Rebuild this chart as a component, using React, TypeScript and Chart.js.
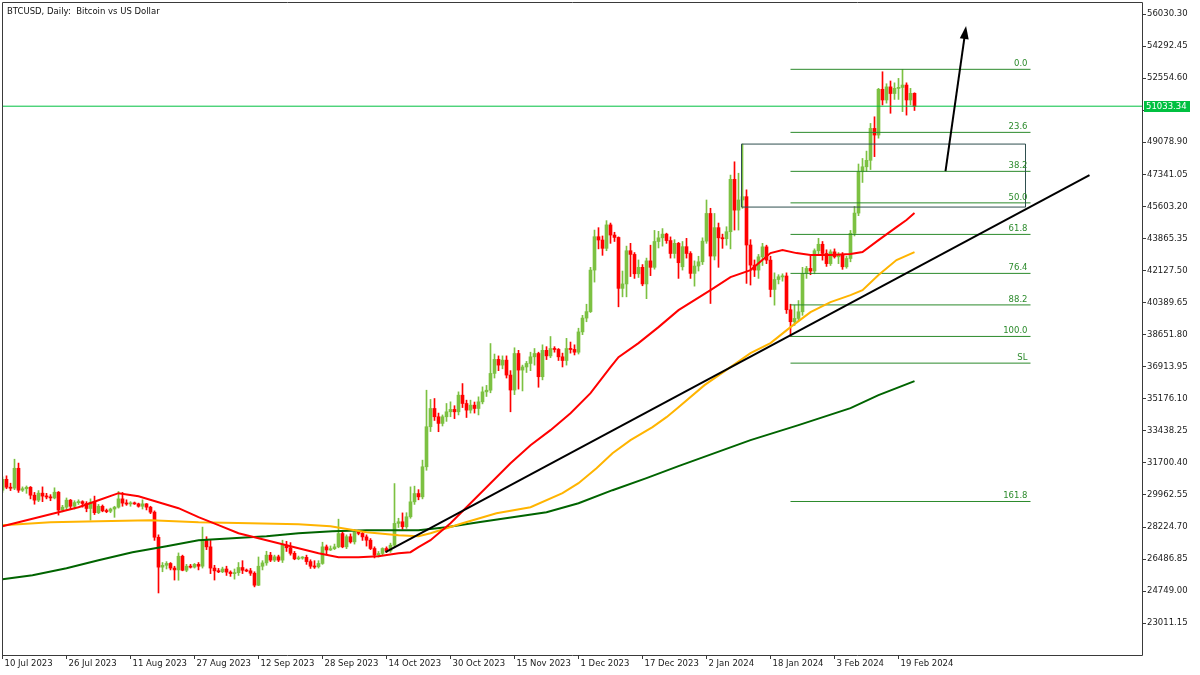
import React, { useEffect, useRef } from "react";
import { Chart, registerables } from "chart.js";

Chart.register(...registerables);

const FONT = "'DejaVu Sans', sans-serif";

const chartTitle = "BTCUSD, Daily:  Bitcoin vs US Dollar";

const dateLabels = [
  "10 Jul 2023", "26 Jul 2023", "11 Aug 2023", "27 Aug 2023", "12 Sep 2023",
  "28 Sep 2023", "14 Oct 2023", "30 Oct 2023", "15 Nov 2023", "1 Dec 2023",
  "17 Dec 2023", "2 Jan 2024", "18 Jan 2024", "3 Feb 2024", "19 Feb 2024",
];
const dateLabelStep = 16;

// daily candles: [open, high, low, close]
const jul2023 = [
  [30220, 30950, 30100, 30810], [30810, 31000, 30300, 30380], [30380, 30600, 30200, 30330],
  [30330, 31900, 30250, 31410], [31410, 31690, 30100, 30220], [30220, 30400, 30150, 30300],
  [30300, 30450, 30050, 30380], [30380, 30420, 29750, 29950], [29950, 30100, 29460, 29680],
  [29680, 30200, 29600, 30060], [30060, 30400, 29600, 29900], [29900, 30050, 29750, 29860],
  [29860, 29980, 29650, 29800], [29800, 30350, 29750, 30110], [30110, 30150, 28870, 29140],
  [29140, 29400, 29050, 29300], [29300, 29800, 29150, 29680], [29680, 29720, 29200, 29350],
  [29350, 29650, 29200, 29550], [29550, 29700, 29450, 29600], [29600, 29650, 29300, 29500],
  [29500, 29600, 29050, 29230],
];
const aug2023 = [
  [29230, 29750, 28600, 29570], [29570, 29900, 28900, 29000], [29000, 29450, 28950, 29350],
  [29350, 29420, 29050, 29100], [29100, 29200, 29000, 29080], [29080, 29250, 29000, 29200],
  [29200, 29350, 28750, 29300], [29300, 30150, 29250, 29750], [29750, 30100, 29350, 29520],
  [29520, 29700, 29400, 29480], [29480, 29600, 29350, 29530], [29530, 29580, 29450, 29480],
  [29480, 29520, 29300, 29350], [29350, 29700, 29200, 29480], [29480, 29500, 29150, 29300],
  [29300, 29350, 28950, 29030], [29030, 29100, 27500, 27670], [27670, 27800, 24650, 26050],
  [26050, 26300, 25800, 26150], [26150, 26350, 25950, 26250], [26250, 26300, 25900, 26000],
  [26000, 26100, 25350, 25900], [25900, 26820, 25340, 26640], [26640, 26700, 25850, 25880],
  [25880, 26200, 25800, 26100], [26100, 26200, 26000, 26050], [26050, 26250, 26000, 26200],
  [26200, 26300, 25900, 26100], [26100, 28220, 26000, 27510], [27510, 27700, 27000, 27150],
  [27150, 27500, 25700, 26000],
];
const sep2023 = [
  [26000, 26150, 25350, 25850], [25850, 25980, 25750, 25800], [25800, 26050, 25750, 25950],
  [25950, 26100, 25600, 25780], [25780, 25850, 25550, 25700], [25700, 25950, 25400, 25750],
  [25750, 26300, 25600, 26030], [26030, 26400, 25700, 25880], [25880, 25950, 25800, 25850],
  [25850, 25980, 25600, 25720], [25720, 25800, 24980, 25070], [25070, 26600, 25050, 26100],
  [26100, 26400, 25900, 26280], [26280, 26910, 26150, 26700], [26700, 26850, 26350, 26430],
  [26430, 26700, 26350, 26610], [26610, 26700, 26350, 26430], [26430, 27510, 26300, 27240],
  [27240, 27450, 26900, 27100], [27100, 27380, 26700, 26800], [26800, 26900, 26450, 26500],
  [26500, 26650, 26450, 26560], [26560, 26620, 26480, 26580], [26580, 26700, 26200, 26350],
  [26350, 26450, 25980, 26100], [26100, 26400, 25980, 26070], [26070, 26400, 26000, 26250],
  [26250, 27400, 26200, 27150], [27150, 27250, 26750, 26980], [26980, 27200, 26950, 27050],
];
const oct2023 = [
  [27050, 27300, 27000, 27150], [27150, 28650, 27100, 27870], [27870, 27950, 27100, 27150],
  [27150, 27800, 27050, 27700], [27700, 27850, 27350, 27420], [27420, 28090, 27300, 27960],
  [27960, 28050, 27800, 27880], [27880, 28000, 27500, 27690], [27690, 27800, 27190, 27510],
  [27510, 27600, 27000, 27060], [27060, 27150, 26550, 26700], [26700, 26900, 26600, 26790],
  [26790, 27100, 26700, 27060], [27060, 27150, 26850, 26930], [26930, 27350, 26850, 27240],
  [27240, 30580, 27100, 28420], [28420, 28700, 28200, 28510], [28510, 28990, 28100, 28240],
  [28240, 29000, 28150, 28780], [28780, 30400, 28700, 29590], [29590, 30440, 29450, 30040],
  [30040, 30250, 29700, 29860], [29860, 31850, 29750, 31490], [31490, 35640, 31300, 33660],
  [33660, 35140, 33400, 34650], [34650, 35190, 34000, 34200], [34200, 34400, 33390, 33840],
  [33840, 34300, 33700, 34200], [34200, 34920, 33950, 34470], [34470, 35010, 34200, 34600],
  [34600, 34800, 34100, 34470],
];
const nov2023 = [
  [34470, 35550, 34300, 35370], [35370, 36000, 34700, 34920], [34920, 35100, 34160, 34560],
  [34560, 35100, 34400, 34830], [34830, 35000, 34400, 34650], [34650, 35280, 34300, 35010],
  [35010, 35820, 34900, 35550], [35550, 35900, 35300, 35640], [35640, 38170, 35500, 36550],
  [36550, 37600, 36300, 37310], [37310, 37500, 36700, 37000], [37000, 37500, 36800, 37270],
  [37270, 37500, 36300, 36460], [36460, 36700, 34470, 35650], [35650, 37940, 35400, 37630],
  [37630, 37800, 35700, 36730], [36730, 37000, 35600, 36900], [36900, 37200, 36600, 37090],
  [37090, 37700, 36700, 37450], [37450, 37900, 37000, 37630], [37630, 37700, 35800, 36370],
  [36370, 38100, 36200, 37800], [37800, 38000, 37300, 37500], [37500, 38550, 37400, 37900],
  [37900, 38000, 37700, 37850], [37850, 37900, 37250, 37450], [37450, 37650, 36900, 37250],
  [37250, 38450, 37000, 37900], [37900, 38250, 37650, 37850], [37850, 38100, 37550, 37700],
];
const dec2023 = [
  [37700, 39000, 37600, 38800], [38800, 39700, 38650, 39550], [39550, 40300, 39350, 39900],
  [39900, 42300, 39850, 42150], [42150, 44320, 41500, 43960], [43960, 44450, 43300, 43780],
  [43780, 44000, 42950, 43330], [43330, 44830, 43200, 44600], [44600, 44700, 43600, 44050],
  [44050, 44200, 43700, 43920], [43920, 43950, 40160, 41160], [41160, 42100, 40700, 41400],
  [41400, 43450, 40700, 43200], [43200, 43600, 41800, 43000], [43000, 43100, 41700, 41950],
  [41950, 42700, 41750, 42300], [42300, 42450, 41300, 41400], [41400, 42800, 40600, 42650],
  [42650, 43500, 41850, 42300], [42300, 44300, 42200, 43700], [43700, 44250, 43350, 43900],
  [43900, 44400, 43450, 44100], [44100, 44150, 43600, 43750], [43750, 43950, 42800, 43050],
  [43050, 43800, 42800, 43600], [43600, 43650, 41700, 42550], [42330, 43700, 42150, 43420],
  [43420, 43870, 42800, 43050], [43050, 43150, 41700, 41970], [41970, 42650, 41280, 42370],
  [42370, 42900, 42100, 42600],
];
const jan2024 = [
  [42600, 43900, 42450, 43720], [43720, 45950, 43600, 45220], [45220, 45500, 40340, 42910],
  [42910, 45220, 42700, 44450], [44450, 44700, 42300, 43900], [43900, 44100, 43330, 43850],
  [43850, 44500, 43500, 44230], [44230, 47300, 43300, 47070], [47070, 48020, 44320, 45400],
  [45400, 47400, 44320, 45950], [45950, 48980, 45500, 46130], [46130, 46500, 41430, 43510],
  [43510, 43800, 41340, 42420], [42420, 42700, 41800, 42150], [42150, 43000, 41700, 42870],
  [42870, 43600, 42400, 43410], [43410, 43500, 42500, 42690], [42690, 42900, 40700, 41100],
  [41100, 42000, 40250, 41640], [41640, 41900, 41400, 41790], [41790, 41950, 41550, 41830],
  [41830, 42000, 39800, 40000], [40000, 40300, 38560, 39350], [39350, 40250, 39150, 39530],
  [39530, 40500, 39400, 39890], [39890, 42300, 39700, 41970], [41970, 42350, 41700, 42240],
  [42240, 42900, 41900, 42100], [42100, 43300, 41950, 43200], [43200, 43870, 43000, 43550],
  [43550, 43700, 42690, 43050],
];
const feb2024 = [
  [43050, 43250, 42350, 42500], [42500, 43250, 42400, 43140], [43140, 43300, 42800, 42870],
  [42870, 43100, 42500, 42950], [42950, 43100, 42190, 42330], [42330, 42900, 42250, 42780],
  [42780, 44300, 42600, 44140], [44140, 45600, 44000, 45240], [45240, 47900, 45100, 47480],
  [47480, 48200, 46900, 47750], [47750, 48600, 47500, 48100], [48100, 50100, 47600, 49830],
  [49830, 50460, 48300, 49470], [49470, 52000, 49300, 51950], [51950, 52900, 51100, 51370],
  [51370, 52250, 51200, 52080], [52080, 52400, 50650, 51720], [51720, 52300, 51400, 52000],
  [52000, 52540, 51400, 52050], [52050, 53030, 50740, 52180], [52180, 52300, 50550, 51370],
  [51370, 52000, 51100, 51730], [51730, 51760, 50800, 51033],
];

const candles = [
  ...jul2023, ...aug2023, ...sep2023, ...oct2023,
  ...nov2023, ...dec2023, ...jan2024, ...feb2024,
];

// price axis
const priceTickStart = 23011.15;
const priceTickStep = 1737.85;
const priceTickCount = 20;
const priceMin = 21288;
const priceMax = 56681;
const barIndexMin = -0.125;
const barIndexMax = 284.875;
const lastPrice = 51033.34;

// moving averages: [bar index, price]
const maRed = [
  [0, 28269], [4, 28486], [9, 28757], [14, 29028], [19, 29300], [24, 29679], [29, 30059],
  [34, 29896], [39, 29571], [44, 29245], [49, 28757], [54, 28324], [59, 27890], [64, 27619],
  [69, 27348], [74, 27077], [79, 26805], [84, 26589], [89, 26589], [94, 26643], [99, 26805],
  [102, 26860], [104, 27131], [107, 27510], [112, 28432], [117, 29516], [122, 30601],
  [127, 31685], [132, 32661], [137, 33474], [142, 34396], [147, 35481], [152, 36890],
  [154, 37433], [159, 38192], [164, 39059], [169, 39981], [177, 41065], [182, 41770],
  [187, 42150], [192, 43071], [195, 43234], [198.5, 43071], [202, 42963], [207, 42963],
  [212, 43017], [215, 43126], [219, 43776], [223.5, 44481], [226, 44861], [228, 45240],
];
const maOrange = [
  [0, 28324], [12, 28486], [24, 28540], [37, 28595], [49, 28486], [62, 28432], [74, 28378],
  [82, 28269], [91, 27944], [99, 27781], [104, 27727], [107, 27890], [115, 28432],
  [123.5, 28974], [132, 29300], [140, 30059], [144, 30601], [148.5, 31414], [152.5, 32227],
  [157, 32932], [162.5, 33637], [166, 34179], [169, 34722], [175.5, 35914], [182, 36890],
  [187, 37649], [192, 38192], [197, 39059], [202, 39872], [207, 40415], [212, 40794],
  [215, 41065], [219, 41879], [223.5, 42692], [228, 43126],
];
const maGreen = [
  [0, 25396], [7.5, 25613], [16, 25992], [24, 26426], [32.5, 26860], [41, 27185], [49, 27510],
  [57.5, 27619], [66, 27727], [74, 27890], [82.5, 27998], [91, 28052], [104, 28052],
  [111, 28215], [119, 28486], [127.5, 28757], [136, 29028], [144, 29516], [152.5, 30221],
  [161, 30872], [169, 31523], [187, 32932], [199, 33746], [212, 34667], [219, 35372],
  [228, 36131],
];

// drawings
const trendLine = [[95.75, 26860], [271.75, 47301]];
const arrowLine = [[235.75, 47517], [240.75, 55162]];
const zoneBox = [[184.75, 48981], [255.75, 48981], [255.75, 45566], [184.75, 45566], [184.75, 48981]];

const fibHigh = 53032;
const fibLow = 38555;
const fibFrom = 197;
const fibTo = 257;
const fibRatios = [0, 23.6, 38.2, 50, 61.8, 76.4, 88.2, 100, 110, 161.8];
const fibNames = ["0.0", "23.6", "38.2", "50.0", "61.8", "76.4", "88.2", "100.0", "SL", "161.8"];

const BULL = "#7cc142";
const BEAR = "#ff0000";
const FIB = "#2b8a2b";
const LAST = "#00c040";
const AXIS = "#3a3a3a";

const xy = (pts: number[][]) => pts.map(([i, p]) => ({ x: i, y: p }));
const fibPrice = (r: number) => fibHigh - ((fibHigh - fibLow) * r) / 100;

const overlayPlugin = {
  id: "overlay",
  afterDatasetsDraw(chart: any) {
    const { ctx, scales } = chart;
    const x = scales.x;
    const y = scales.y;
    const x1 = x.getPixelForValue(arrowLine[0][0]);
    const y1 = y.getPixelForValue(arrowLine[0][1]);
    const x2 = x.getPixelForValue(arrowLine[1][0]);
    const y2 = y.getPixelForValue(arrowLine[1][1]);
    const ang = Math.atan2(y2 - y1, x2 - x1);
    const c = Math.cos(ang);
    const s = Math.sin(ang);
    const tipX = x2 + c * 4;
    const tipY = y2 + s * 4;
    const bx = tipX - c * 13;
    const by = tipY - s * 13;
    ctx.save();
    ctx.fillStyle = "#000";
    ctx.beginPath();
    ctx.moveTo(tipX, tipY);
    ctx.lineTo(bx - s * 4.5, by + c * 4.5);
    ctx.lineTo(bx + s * 4.5, by - c * 4.5);
    ctx.closePath();
    ctx.fill();

    // fib labels
    ctx.font = `8.5px ${FONT}`;
    ctx.fillStyle = FIB;
    ctx.textAlign = "right";
    ctx.textBaseline = "alphabetic";
    const lx = x.getPixelForValue(fibTo) - 3;
    fibRatios.forEach((r, k) => {
      ctx.fillText(fibNames[k], lx, y.getPixelForValue(fibPrice(r)) - 3);
    });
    ctx.restore();
  },
  afterDraw(chart: any) {
    const { ctx, chartArea: a, scales } = chart;
    const y = scales.y;
    ctx.save();
    // frame
    ctx.strokeStyle = AXIS;
    ctx.lineWidth = 1;
    ctx.beginPath();
    ctx.moveTo(a.left + 0.5, a.bottom + 0.5);
    ctx.lineTo(a.left + 0.5, a.top + 0.5);
    ctx.lineTo(a.right + 0.5, a.top + 0.5);
    ctx.lineTo(a.right + 0.5, a.bottom + 0.5);
    ctx.lineTo(a.left + 0.5, a.bottom + 0.5);
    ctx.stroke();

    // title
    ctx.font = `8.5px ${FONT}`;
    ctx.fillStyle = "#111";
    ctx.textAlign = "left";
    ctx.textBaseline = "alphabetic";
    ctx.fillText(chartTitle, 7, 13.5);

    // last price tag
    const py = y.getPixelForValue(lastPrice);
    ctx.fillStyle = LAST;
    ctx.fillRect(a.right + 2, Math.round(py) - 5, 46, 11);
    ctx.fillStyle = "#fff";
    ctx.textBaseline = "middle";
    ctx.fillText(lastPrice.toFixed(2), a.right + 4, Math.round(py) + 0.5);
    ctx.restore();
  },
};

export default function App() {
  const ref = useRef<HTMLCanvasElement>(null);

  useEffect(() => {
    const canvas = ref.current;
    if (!canvas) return;

    const colors = candles.map(([o, , , c]) => (c >= o ? BULL : BEAR));
    const wickData = candles.map(([, h, l], i) => ({ x: i, y: [l, h] }));
    const bodyData = candles.map(([o, , , c], i) => {
      let lo = Math.min(o, c);
      let hi = Math.max(o, c);
      if (hi - lo < 60) {
        const m = (hi + lo) / 2;
        lo = m - 30;
        hi = m + 30;
      }
      return { x: i, y: [lo, hi] };
    });

    const lineBase = {
      type: "line" as const,
      pointRadius: 0,
      pointHoverRadius: 0,
      tension: 0,
      fill: false,
    };

    const datasets: any[] = [
      {
        type: "bar",
        data: wickData,
        backgroundColor: colors,
        borderWidth: 0,
        barThickness: 1,
        grouped: false,
        order: 20,
      },
      {
        type: "bar",
        data: bodyData,
        backgroundColor: colors,
        borderWidth: 0,
        barThickness: 3,
        grouped: false,
        order: 19,
      },
      ...fibRatios.map((r) => ({
        ...lineBase,
        data: [
          { x: fibFrom, y: fibPrice(r) },
          { x: fibTo, y: fibPrice(r) },
        ],
        borderColor: FIB,
        borderWidth: 1,
        order: 8,
      })),
      {
        ...lineBase,
        data: xy(zoneBox),
        borderColor: "#2f4f4f",
        borderWidth: 1,
        order: 7,
      },
      {
        ...lineBase,
        data: [
          { x: barIndexMin, y: lastPrice },
          { x: barIndexMax, y: lastPrice },
        ],
        borderColor: LAST,
        borderWidth: 1,
        order: 6,
      },
      { ...lineBase, data: xy(maGreen), borderColor: "#006400", borderWidth: 2, order: 5 },
      { ...lineBase, data: xy(maOrange), borderColor: "#ffb400", borderWidth: 2, order: 4 },
      { ...lineBase, data: xy(maRed), borderColor: "#ff0000", borderWidth: 2, order: 3 },
      { ...lineBase, data: xy(trendLine), borderColor: "#000", borderWidth: 2, order: 2 },
      { ...lineBase, data: xy(arrowLine), borderColor: "#000", borderWidth: 2, order: 1 },
    ];

    const chart = new Chart(canvas, {
      type: "bar",
      data: { datasets },
      plugins: [overlayPlugin],
      options: {
        responsive: false,
        maintainAspectRatio: false,
        devicePixelRatio: 1,
        animation: false,
        events: [],
        layout: { padding: { left: 2, top: 2, right: 0, bottom: 0 } },
        plugins: {
          legend: { display: false },
          tooltip: { enabled: false },
          title: { display: false },
        },
        scales: {
          x: {
            type: "linear",
            min: barIndexMin,
            max: barIndexMax,
            bounds: "data",
            offset: false,
            border: { display: false },
            grid: {
              display: true,
              drawOnChartArea: false,
              drawTicks: true,
              tickLength: 4,
              tickColor: AXIS,
              offset: false,
            },
            ticks: {
              autoSkip: false,
              maxRotation: 0,
              minRotation: 0,
              align: "start",
              labelOffset: 2,
              padding: 0,
              color: "#1a1a1a",
              font: { family: FONT, size: 8.5 },
              callback: (v: any) => {
                const k = Math.round(Number(v) / dateLabelStep);
                return dateLabels[k] ?? "";
              },
            },
            afterBuildTicks: (scale: any) => {
              scale.ticks = dateLabels.map((_, k) => ({ value: k * dateLabelStep }));
            },
            afterFit: (scale: any) => {
              scale.height = 20;
              scale.paddingLeft = 0;
              scale.paddingRight = 0;
            },
          },
          y: {
            type: "linear",
            position: "right",
            min: priceMin,
            max: priceMax,
            bounds: "data",
            beginAtZero: false,
            border: { display: false },
            grid: {
              display: true,
              drawOnChartArea: false,
              drawTicks: true,
              tickLength: 4,
              tickColor: AXIS,
            },
            ticks: {
              autoSkip: false,
              padding: 1,
              color: "#1a1a1a",
              font: { family: FONT, size: 8.5 },
              callback: (v: any) => Number(v).toFixed(2),
            },
            afterBuildTicks: (scale: any) => {
              scale.ticks = Array.from({ length: priceTickCount }, (_, k) => ({
                value: priceTickStart + k * priceTickStep,
              }));
            },
            afterFit: (scale: any) => {
              scale.width = 58;
              scale.paddingTop = 0;
              scale.paddingBottom = 0;
            },
          },
        },
      } as any,
    });

    return () => chart.destroy();
  }, []);

  return (
    <div
      style={{
        position: "fixed",
        left: 0,
        top: 0,
        width: 1200,
        height: 675,
        background: "#fff",
      }}
    >
      <canvas ref={ref} width={1200} height={675} style={{ display: "block", width: 1200, height: 675 }} />
    </div>
  );
}
